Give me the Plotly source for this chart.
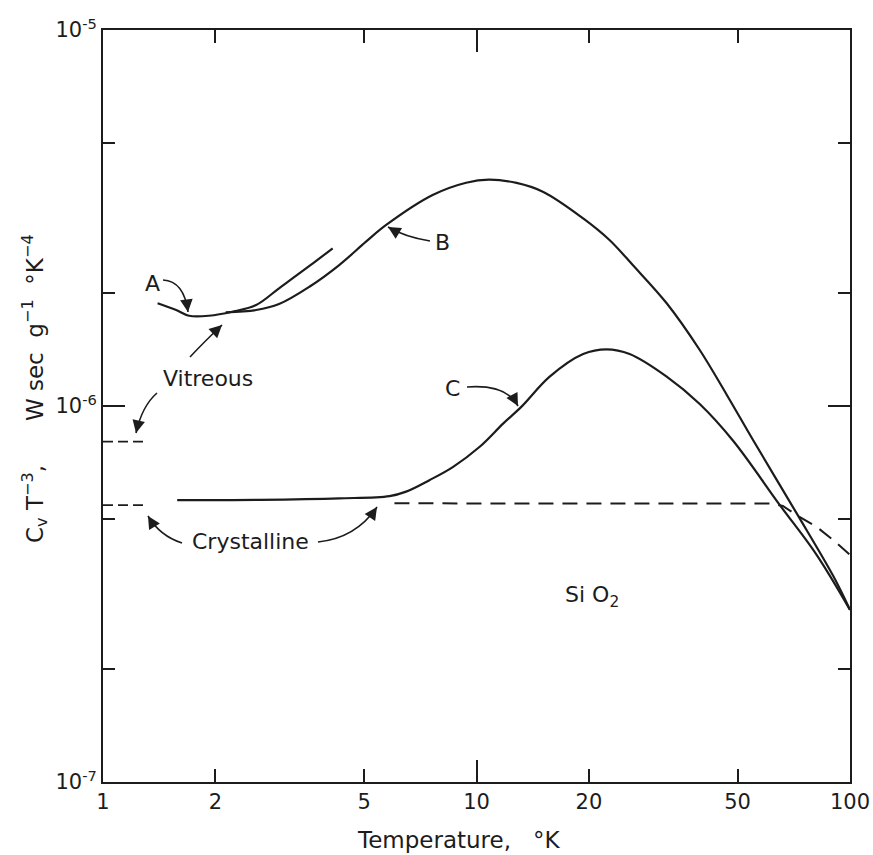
import math
import plotly.graph_objects as go

# ---------------- data ----------------
# Curve A (vitreous, upper short branch)
a_temp = [1.40, 1.57, 1.70, 1.92, 2.22, 2.57, 2.96, 3.57, 4.12]
a_cv = [1.876e-6, 1.800e-6, 1.738e-6, 1.738e-6, 1.781e-6, 1.856e-6, 2.056e-6, 2.357e-6, 2.627e-6]

# Curve B (vitreous)
b_temp = [2.13, 2.57, 2.96, 3.57, 4.29, 5.06, 5.73, 7.63, 9.38, 10.8, 12.8, 15.1,
          19.3, 22.7, 26.2, 32.3, 39.6, 46.8, 55.0, 72.0, 90.2, 100]
b_cv = [1.775e-6, 1.800e-6, 1.867e-6, 2.076e-6, 2.371e-6, 2.735e-6, 3.03e-6, 3.64e-6,
        3.925e-6, 4.00e-6, 3.92e-6, 3.71e-6, 3.155e-6, 2.764e-6, 2.371e-6, 1.876e-6,
        1.409e-6, 1.070e-6, 8.12e-7, 5.18e-7, 3.53e-7, 2.87e-7]

# Curve C (crystalline)
c_temp = [1.58, 2.62, 4.29, 5.85, 6.48, 7.48, 8.64, 10.2, 11.8, 13.2, 15.7, 19.3,
          22.3, 25.7, 32.3, 39.6, 48.7, 64.9, 81.4, 100]
c_cv = [5.62e-7, 5.63e-7, 5.68e-7, 5.76e-7, 5.92e-7, 6.35e-7, 6.88e-7, 7.79e-7,
        8.99e-7, 9.96e-7, 1.197e-6, 1.375e-6, 1.415e-6, 1.375e-6, 1.197e-6, 1.012e-6,
        8.07e-7, 5.45e-7, 4.02e-7, 2.87e-7]

# Crystalline Debye limit (dashed)
d_temp = [6.03, 20, 40, 62.0, 66.1, 71.9, 81.4, 90.2, 100]
d_cv = [5.51e-7, 5.51e-7, 5.51e-7, 5.50e-7, 5.42e-7, 5.13e-7, 4.77e-7, 4.40e-7, 4.02e-7]

# Short dashed stubs at the left axis
vit_stub_temp = [1.0, 1.28]
vit_stub_cv = [8.04e-7, 8.04e-7]
cry_stub_temp = [1.0, 1.31]
cry_stub_cv = [5.45e-7, 5.45e-7]

# Tick values / labels
x_ticks = [1, 2, 5, 10, 20, 50, 100]
x_ticklabels = ["1", "2", "5", "10", "20", "50", "100"]
y_major = [1e-7, 1e-6, 1e-5]
y_major_labels = ["10<sup>-7</sup>", "10<sup>-6</sup>", "10<sup>-5</sup>"]
y_minor = [2e-7, 5e-7, 2e-6, 5e-6]

# ---------------- figure ----------------
INK = "#1c1c1c"
FONT = "DejaVu Sans"
W, H = 873, 855
L, R, T, B = 103, 23, 30, 73
PW, PH = W - L - R, H - T - B


def px(xs, ys):
    """screen pixel position -> paper coordinates (layout helper for annotations)"""
    return (xs - L) / PW, (H - B - ys) / PH


fig = go.Figure()
solid = dict(color=INK, width=2.2, shape="spline", smoothing=1.0)
fig.add_trace(go.Scatter(x=a_temp, y=a_cv, mode="lines", line=solid, name="A"))
fig.add_trace(go.Scatter(x=b_temp, y=b_cv, mode="lines", line=solid, name="B"))
fig.add_trace(go.Scatter(x=c_temp, y=c_cv, mode="lines", line=solid, name="C"))
fig.add_trace(go.Scatter(x=d_temp, y=d_cv, mode="lines",
                         line=dict(color=INK, width=2, dash="15px,9px"),
                         name="Crystalline limit"))
fig.add_trace(go.Scatter(x=vit_stub_temp, y=vit_stub_cv, mode="lines",
                         line=dict(color=INK, width=1.6, dash="10px,5px"), name="Vitreous"))
fig.add_trace(go.Scatter(x=cry_stub_temp, y=cry_stub_cv, mode="lines",
                         line=dict(color=INK, width=1.6, dash="10px,5px"), name="Crystalline"))

annots = []
shapes = []


def text(s, xs, ys, size=22, xanchor="center"):
    x, y = px(xs, ys)
    annots.append(dict(text=s, x=x, y=y, xref="paper", yref="paper", showarrow=False,
                       xanchor=xanchor, yanchor="middle",
                       font=dict(family=FONT, size=size, color=INK)))


def curved_arrow(tail, ctrl, head):
    (tx, ty), (cx, cy), (hx, hy) = px(*tail), px(*ctrl), px(*head)
    shapes.append(dict(type="path", xref="paper", yref="paper",
                       path=f"M {tx},{ty} Q {cx},{cy} {hx},{hy}",
                       line=dict(color=INK, width=1.6)))
    dx, dy = ctrl[0] - head[0], ctrl[1] - head[1]
    n = math.hypot(dx, dy)
    annots.append(dict(text="", x=hx, y=hy, xref="paper", yref="paper", showarrow=True,
                       ax=dx / n * 9, ay=dy / n * 9, arrowhead=2, arrowsize=1.4,
                       arrowwidth=1.8, arrowcolor=INK, standoff=0))


text("A", 152, 283)
text("B", 442, 243)
text("C", 452, 388)
text("Vitreous", 208, 378)
text("Crystalline", 250, 541)
text("Si O<sub>2</sub>", 592, 596)
curved_arrow((163, 280), (184, 281), (188, 312))
curved_arrow((190, 357), (204, 342), (222, 325))
curved_arrow((157, 393), (142, 406), (136, 433))
curved_arrow((430, 241), (405, 237), (388, 227))
curved_arrow((467, 387), (506, 384), (518, 406))
curved_arrow((182, 543), (160, 536), (148, 516))
curved_arrow((318, 542), (356, 538), (377, 507))

# axis titles
x, y = px(458, 840)
annots.append(dict(text="Temperature,\u00a0\u00a0 °K", x=x, y=y, xref="paper", yref="paper",
                   showarrow=False, xanchor="center", yanchor="middle",
                   font=dict(family=FONT, size=23, color=INK)))
x, y = px(34, 389)
annots.append(dict(text="C<sub>v</sub>\u00a0T<sup>−3</sup>,\u00a0\u00a0\u00a0\u00a0\u00a0\u00a0W\u00a0sec\u00a0\u00a0g<sup>−1</sup>\u00a0\u00a0°K<sup>−4</sup>",
                   x=x, y=y, xref="paper", yref="paper", textangle=-90,
                   showarrow=False, xanchor="center", yanchor="middle",
                   font=dict(family=FONT, size=23, color=INK)))

fig.update_layout(
    width=W, height=H, autosize=False,
    margin=dict(l=L, r=R, t=T, b=B, pad=0, autoexpand=False),
    paper_bgcolor="white", plot_bgcolor="white",
    showlegend=False,
    font=dict(family=FONT, size=21, color=INK),
    annotations=annots, shapes=shapes,
    xaxis=dict(type="log", range=[0, 2], showgrid=False, zeroline=False, automargin=False,
               showline=True, linecolor=INK, linewidth=2, mirror="ticks",
               ticks="inside", ticklen=13, tickwidth=2, tickcolor=INK,
               tickmode="array", tickvals=x_ticks, ticktext=x_ticklabels,
               minor=dict(tickmode="array", tickvals=[10], ticklen=22, tickwidth=2,
                          tickcolor=INK, ticks="inside", showgrid=False),
               tickfont=dict(family=FONT, size=21, color=INK)),
    yaxis=dict(type="log", range=[-7, -5], showgrid=False, zeroline=False, automargin=False,
               showline=True, linecolor=INK, linewidth=2, mirror="ticks",
               ticks="inside", ticklen=22, tickwidth=2, tickcolor=INK,
               tickmode="array", tickvals=y_major, ticktext=y_major_labels,
               minor=dict(tickmode="array", tickvals=y_minor, ticklen=12, tickwidth=2,
                          tickcolor=INK, ticks="inside", showgrid=False),
               tickfont=dict(family=FONT, size=21, color=INK)),
)

fig.write_html("out.html", config={"displayModeBar": False},
               post_script="document.body.style.margin='0px';document.body.style.overflow='hidden';")
